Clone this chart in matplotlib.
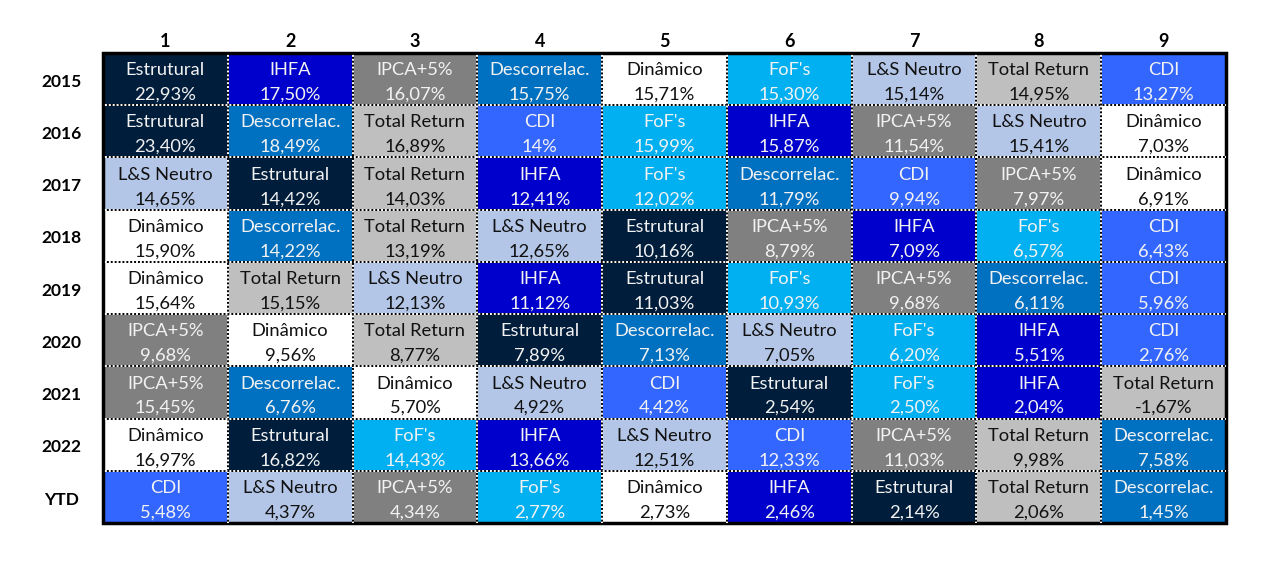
import matplotlib.pyplot as plt
from matplotlib.patches import Rectangle

plt.rcParams['font.family'] = ['Lato', 'DejaVu Sans']

# data
years = ['2015', '2016', '2017', '2018', '2019', '2020', '2021', '2022', 'YTD']
ranks = ['1', '2', '3', '4', '5', '6', '7', '8', '9']

names = [
    ['Estrutural', 'IHFA', 'IPCA+5%', 'Descorrelac.', 'Dinâmico', "FoF's", 'L&S Neutro', 'Total Return', 'CDI'],
    ['Estrutural', 'Descorrelac.', 'Total Return', 'CDI', "FoF's", 'IHFA', 'IPCA+5%', 'L&S Neutro', 'Dinâmico'],
    ['L&S Neutro', 'Estrutural', 'Total Return', 'IHFA', "FoF's", 'Descorrelac.', 'CDI', 'IPCA+5%', 'Dinâmico'],
    ['Dinâmico', 'Descorrelac.', 'Total Return', 'L&S Neutro', 'Estrutural', 'IPCA+5%', 'IHFA', "FoF's", 'CDI'],
    ['Dinâmico', 'Total Return', 'L&S Neutro', 'IHFA', 'Estrutural', "FoF's", 'IPCA+5%', 'Descorrelac.', 'CDI'],
    ['IPCA+5%', 'Dinâmico', 'Total Return', 'Estrutural', 'Descorrelac.', 'L&S Neutro', "FoF's", 'IHFA', 'CDI'],
    ['IPCA+5%', 'Descorrelac.', 'Dinâmico', 'L&S Neutro', 'CDI', 'Estrutural', "FoF's", 'IHFA', 'Total Return'],
    ['Dinâmico', 'Estrutural', "FoF's", 'IHFA', 'L&S Neutro', 'CDI', 'IPCA+5%', 'Total Return', 'Descorrelac.'],
    ['CDI', 'L&S Neutro', 'IPCA+5%', "FoF's", 'Dinâmico', 'IHFA', 'Estrutural', 'Total Return', 'Descorrelac.'],
]

values = [
    ['22,93%', '17,50%', '16,07%', '15,75%', '15,71%', '15,30%', '15,14%', '14,95%', '13,27%'],
    ['23,40%', '18,49%', '16,89%', '14%', '15,99%', '15,87%', '11,54%', '15,41%', '7,03%'],
    ['14,65%', '14,42%', '14,03%', '12,41%', '12,02%', '11,79%', '9,94%', '7,97%', '6,91%'],
    ['15,90%', '14,22%', '13,19%', '12,65%', '10,16%', '8,79%', '7,09%', '6,57%', '6,43%'],
    ['15,64%', '15,15%', '12,13%', '11,12%', '11,03%', '10,93%', '9,68%', '6,11%', '5,96%'],
    ['9,68%', '9,56%', '8,77%', '7,89%', '7,13%', '7,05%', '6,20%', '5,51%', '2,76%'],
    ['15,45%', '6,76%', '5,70%', '4,92%', '4,42%', '2,54%', '2,50%', '2,04%', '-1,67%'],
    ['16,97%', '16,82%', '14,43%', '13,66%', '12,51%', '12,33%', '11,03%', '9,98%', '7,58%'],
    ['5,48%', '4,37%', '4,34%', '2,77%', '2,73%', '2,46%', '2,14%', '2,06%', '1,45%'],
]

# fill colour per fund; light cells get dark text
fill = {
    'Estrutural': '#001d3b',
    'IHFA': '#0000cc',
    'IPCA+5%': '#808080',
    'Descorrelac.': '#0070c0',
    'Dinâmico': '#ffffff',
    "FoF's": '#00b0f0',
    'L&S Neutro': '#b4c6e7',
    'Total Return': '#bfbfbf',
    'CDI': '#3366ff',
}
dark_text = ['Dinâmico', 'L&S Neutro', 'Total Return']

fig = plt.figure(figsize=(12.7, 5.62), dpi=100)
ax = fig.add_axes([103 / 1270, 39 / 562, 1123 / 1270, 470 / 562])
ax.set_xlim(0, 9)
ax.set_ylim(9, 0)
ax.axis('off')

for r in range(len(years)):
    for c in range(len(ranks)):
        n = names[r][c]
        ax.add_patch(Rectangle((c, r), 1, 1, facecolor=fill[n], edgecolor='none'))
        tc = '#111111' if n in dark_text else '#f2f2f2'
        ax.text(c + 0.5, r + 0.33, n, ha='center', va='center', fontsize=13.2, color=tc)
        ax.text(c + 0.5, r + 0.80, values[r][c], ha='center', va='center', fontsize=13.2, color=tc)

# dotted inner grid
for k in range(1, 9):
    ax.plot([k, k], [0, 9], color='white', lw=1.4)
    ax.plot([k, k], [0, 9], color='black', lw=1.4, linestyle=(0, (1, 1)))
    ax.plot([0, 9], [k, k], color='white', lw=1.4)
    ax.plot([0, 9], [k, k], color='black', lw=1.4, linestyle=(0, (1, 1)))

# outer frame
ax.add_patch(Rectangle((0, 0), 9, 9, facecolor='none', edgecolor='black', lw=2.5, clip_on=False))

for c, lab in enumerate(ranks):
    ax.text(c + 0.5, -0.22, lab, ha='center', va='center', fontsize=13, fontweight='bold')
for r, lab in enumerate(years):
    ax.text(-0.33, r + 0.55, lab, ha='center', va='center', fontsize=12.5, fontweight='bold')

fig.savefig('out.png', dpi=100, facecolor='white')
